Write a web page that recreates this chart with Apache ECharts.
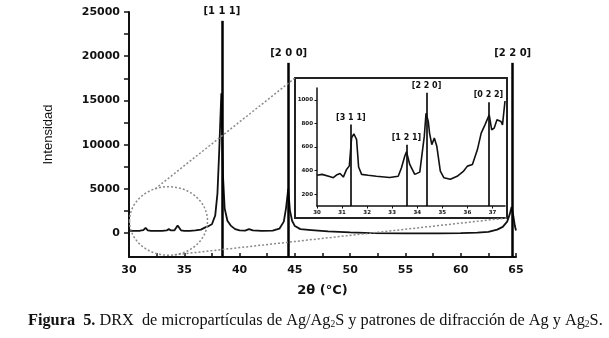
<!DOCTYPE html>
<html>
<head>
<meta charset="utf-8">
<script src="https://cdn.jsdelivr.net/npm/echarts@6/dist/echarts.min.js"></script>
<style>
  html, body { margin: 0; padding: 0; background: #fff; }
  #chart { width: 609px; height: 338px; }
</style>
</head>
<body>
<div id="chart"></div>
<script>
// difractograma principal (2θ, intensidad)
var mainX = [30, 30.5, 31, 31.3, 31.5, 31.7, 32, 32.5, 33, 33.4, 33.6, 33.8, 34.1, 34.4, 34.7, 35, 35.5, 36, 36.5, 36.9,
  37.2, 37.5, 37.8, 38.0, 38.15, 38.35, 38.5, 38.65, 38.9, 39.2, 39.6, 40, 40.5, 40.85, 41.2, 42, 43, 43.6, 44.0, 44.2,
  44.4, 44.55, 44.75, 45, 45.5, 46.5, 48, 50, 52, 55, 58, 60, 61.5, 62.5, 63.3, 63.8, 64.2, 64.45, 64.6, 64.75, 64.9, 65.0];
var mainY = [250, 250, 270, 350, 600, 320, 260, 250, 250, 300, 450, 300, 300, 850, 320, 260, 250, 300, 400, 650,
  800, 1000, 2000, 4500, 9000, 15800, 6500, 2800, 1400, 850, 450, 300, 280, 450, 300, 250, 280, 500, 1300, 2800,
  5000, 2600, 1400, 800, 450, 350, 200, 80, 0, -30, -20, 0, 50, 150, 400, 700, 1300, 2200, 2950, 2000, 800, 300];

// patrones de Ag
var agPos = [38.4, 44.44, 64.7];
var agTop = [24000, 19250, 19250];
var agHkl = ['[1 1 1]', '[2 0 0]', '[2 2 0]'];

// ampliación 30-37.5
var insetX = [30.0, 30.2, 30.5, 30.65, 30.8, 30.92, 31.05, 31.18, 31.29, 31.38, 31.47, 31.58, 31.66, 31.78, 32.04, 32.37,
  32.9, 33.24, 33.37, 33.5, 33.57, 33.7, 33.9, 34.1, 34.28, 34.35, 34.44, 34.49, 34.58, 34.68, 34.78, 34.92, 35.06, 35.32,
  35.59, 35.85, 36.0, 36.2, 36.4, 36.55, 36.7, 36.87, 36.97, 37.07, 37.18, 37.34, 37.4, 37.5];
var insetY = [360, 368, 350, 340, 365, 376, 345, 410, 440, 677, 712, 662, 430, 368, 360, 352,
  341, 352, 424, 521, 560, 452, 368, 387, 690, 886, 816, 718, 620, 676, 606, 396, 340, 326,
  352, 396, 438, 452, 578, 718, 788, 872, 746, 760, 830, 816, 788, 990];

// patrones de Ag2S
var ag2sPos = [31.35, 33.57, 34.37, 36.84];
var ag2sTop = [790, 620, 1060, 980];
var ag2sHkl = ['[3 1 1]', '[1 2 1]', '[2 2 0]', '[0 2 2]'];

var yMainLabels = [0, 5000, 10000, 15000, 20000, 25000];
var yMainTicks = [0, 2500, 5000, 7500, 10000, 12500, 15000, 17500, 20000, 22500, 25000];
var xInsetLabels = [30, 31, 32, 33, 34, 35, 36, 37];
var yInsetLabels = [200, 400, 600, 800, 1000];

var Y_MIN = -2700, Y_MAX = 25000;
var IN_YMIN = 100, IN_YMAX = 1100;
// zona ampliada (elipse) en unidades de datos
var zoomBox = { x0: 30.05, x1: 37.1, y0: -2500, y1: 5250 };

var sans = 'DejaVu Sans';

function pairs(xs, ys) {
  var out = [];
  for (var i = 0; i < xs.length; i++) out.push([xs[i], ys[i]]);
  return out;
}

function peakLines(pos, top, names, base) {
  var out = [];
  for (var i = 0; i < pos.length; i++) {
    out.push([{ coord: [pos[i], base] }, { coord: [pos[i], top[i]], name: names[i] }]);
  }
  return out;
}

function plain(v) { return String(v); }

var MAIN = { left: 129, top: 12, width: 387, height: 245 };
var INSET = { left: 317, top: 88, width: 188, height: 118 };
var FRAME = { x: 295, y: 78, width: 212, height: 140 };

var myChart = echarts.init(document.getElementById('chart'), null, { renderer: 'canvas' });

var option = {
  animation: false,
  backgroundColor: '#fff',
  grid: [
    { left: MAIN.left, top: MAIN.top, width: MAIN.width, height: MAIN.height },
    { left: INSET.left, top: INSET.top, width: INSET.width, height: INSET.height, z: 5 }
  ],
  xAxis: [
    {
      gridIndex: 0, type: 'value', min: 30, max: 65, interval: 5,
      name: '2θ (°C)', nameLocation: 'middle', nameGap: 27,
      nameTextStyle: { fontFamily: sans, fontWeight: 'bold', fontSize: 13, color: '#111' },
      axisLine: { onZero: false, lineStyle: { color: '#111', width: 2 } },
      axisTick: { inside: true, length: 4, lineStyle: { color: '#111', width: 1.5 } },
      minorTick: { show: true, splitNumber: 2, length: 4, lineStyle: { color: '#111', width: 1.5 } },
      axisLabel: { margin: 8, formatter: plain, fontFamily: sans, fontWeight: 'bold', fontSize: 11, color: '#111' },
      splitLine: { show: false }
    },
    {
      gridIndex: 1, type: 'value', min: 30, max: 37.5, interval: 1,
      axisLine: { onZero: false, lineStyle: { color: '#111', width: 1.5 } },
      axisTick: { length: 2.5, customValues: xInsetLabels, lineStyle: { color: '#111', width: 1 } },
      axisLabel: { margin: 4, customValues: xInsetLabels, formatter: plain, fontFamily: sans, fontWeight: 'bold', fontSize: 5.5, color: '#111' },
      splitLine: { show: false }
    }
  ],
  yAxis: [
    {
      gridIndex: 0, type: 'value', min: Y_MIN, max: Y_MAX,
      name: 'Intensidad', nameLocation: 'middle', nameGap: 74, nameRotate: 90,
      nameTextStyle: { fontFamily: 'Liberation Sans', fontSize: 13, color: '#111' },
      axisLine: { show: true, onZero: false, lineStyle: { color: '#111', width: 2 } },
      axisTick: { show: true, length: 5, customValues: yMainTicks, lineStyle: { color: '#111', width: 1.5 } },
      axisLabel: { margin: 9, customValues: yMainLabels, formatter: plain, fontFamily: sans, fontWeight: 'bold', fontSize: 11, color: '#111' },
      splitLine: { show: false }
    },
    {
      gridIndex: 1, type: 'value', min: IN_YMIN, max: IN_YMAX,
      axisLine: { show: true, onZero: false, lineStyle: { color: '#111', width: 1.5 } },
      axisTick: { show: true, length: 2.5, customValues: yInsetLabels, lineStyle: { color: '#111', width: 1 } },
      axisLabel: { margin: 4, customValues: yInsetLabels, formatter: plain, fontFamily: sans, fontWeight: 'bold', fontSize: 5.5, color: '#111' },
      splitLine: { show: false }
    }
  ],
  series: [
    {
      name: 'Ag/Ag2S', type: 'line', xAxisIndex: 0, yAxisIndex: 0,
      data: pairs(mainX, mainY), showSymbol: false, symbol: 'none',
      lineStyle: { color: '#111', width: 1.8 },
      markLine: {
        silent: true, symbol: ['none', 'none'],
        lineStyle: { color: '#000', width: 2.5, type: 'solid' },
        label: { show: true, position: 'end', distance: 4, formatter: '{b}',
          fontFamily: sans, fontWeight: 'bold', fontSize: 10, color: '#111' },
        data: peakLines(agPos, agTop, agHkl, Y_MIN)
      }
    },
    {
      name: 'zoom', type: 'line', xAxisIndex: 1, yAxisIndex: 1, z: 6,
      data: pairs(insetX, insetY), showSymbol: false, symbol: 'none',
      lineStyle: { color: '#111', width: 1.6 },
      markLine: {
        silent: true, symbol: ['none', 'none'],
        lineStyle: { color: '#000', width: 1.6, type: 'solid' },
        label: { show: true, position: 'end', distance: 3, formatter: '{b}',
          fontFamily: sans, fontWeight: 'bold', fontSize: 8, color: '#111' },
        data: peakLines(ag2sPos, ag2sTop, ag2sHkl, IN_YMIN)
      }
    }
  ]
};

myChart.setOption(option);

//elipse y lineas de la ampliacion
var pA = myChart.convertToPixel({ gridIndex: 0 }, [zoomBox.x0, zoomBox.y1]);
var pB = myChart.convertToPixel({ gridIndex: 0 }, [zoomBox.x1, zoomBox.y0]);
var cx = (pA[0] + pB[0]) / 2, cy = (pA[1] + pB[1]) / 2;
var rx = (pB[0] - pA[0]) / 2, ry = (pB[1] - pA[1]) / 2;
var aTop = 250 * Math.PI / 180, aBot = 81 * Math.PI / 180;
var grey = { stroke: '#8a8a8a', lineWidth: 1.5, lineDash: [2, 2], fill: null };

myChart.setOption({
  graphic: [
    { type: 'rect', z: -1, shape: FRAME, style: { fill: '#fff', stroke: '#222', lineWidth: 2 } },
    { type: 'ellipse', z: 10, shape: { cx: cx, cy: cy, rx: rx, ry: ry }, style: grey },
    { type: 'line', z: 10, shape: { x1: cx + rx * Math.cos(aTop), y1: cy + ry * Math.sin(aTop), x2: FRAME.x, y2: FRAME.y }, style: grey },
    { type: 'line', z: 10, shape: { x1: cx + rx * Math.cos(aBot), y1: cy + ry * Math.sin(aBot),
      x2: FRAME.x + FRAME.width, y2: FRAME.y + FRAME.height }, style: grey },
    {
      type: 'text', left: 28, top: 313,
      style: {
        text: '{b|Figura  5.} DRX  de micropartículas de Ag/Ag{s|2}S y patrones de difracción de Ag y Ag{s|2}S.',
        fontFamily: 'Liberation Serif', fontSize: 16.3, fill: '#111',
        rich: {
          b: { fontFamily: 'Liberation Serif', fontSize: 16.3, fontWeight: 'bold', fill: '#111' },
          s: { fontFamily: 'Liberation Serif', fontSize: 9.5, fill: '#111', verticalAlign: 'bottom', lineHeight: 13 }
        }
      }
    }
  ]
});
</script>
</body>
</html>
